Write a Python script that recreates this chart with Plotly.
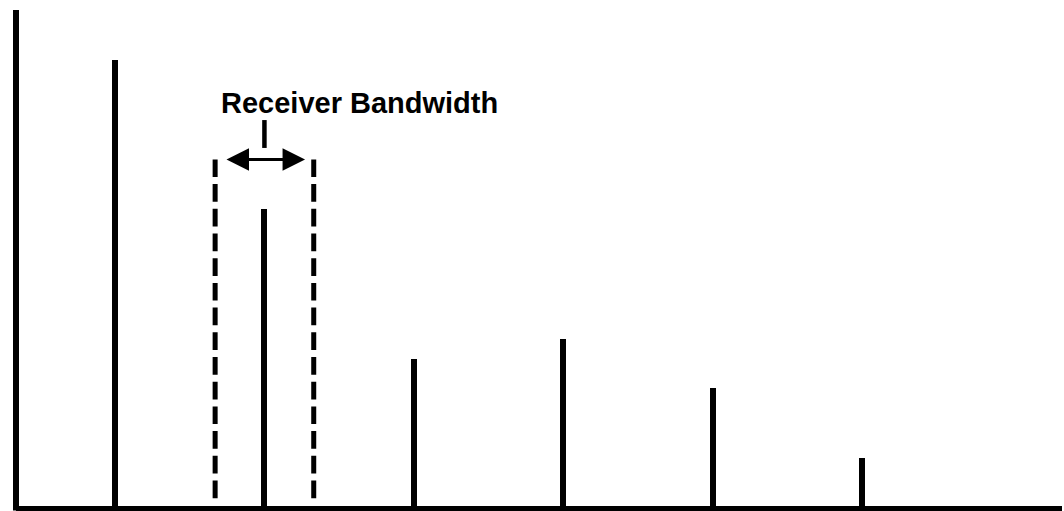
import plotly.graph_objects as go

# Spectral lines (harmonic index, relative amplitude)
harmonics = [1, 2, 3, 4, 5, 6]
amplitudes = [90, 60, 30, 34, 24, 10]

# Receiver bandwidth window around harmonic 2
band_center = 2.0
band_edges = [1.67, 2.33]
band_top = 70
band_bottom = 1.8
arrow_ends = [1.736, 2.272]
arrow_level = 70
marker_tick = [72.3, 77.9]
label_text = "Receiver Bandwidth"
label_pos = [2.636, 81.4]

x_range = [0.337, 7.339]
y_range = [0, 100]

fig = go.Figure()

fig.add_trace(go.Bar(
    x=harmonics, y=amplitudes, width=0.0402,
    marker=dict(color="black", line=dict(width=0)),
    showlegend=False, hoverinfo="skip",
))

for xe in band_edges:
    fig.add_trace(go.Scatter(
        x=[xe, xe], y=[band_top, band_bottom], mode="lines",
        line=dict(color="black", width=5, dash="17.7px,7px"),
        showlegend=False, hoverinfo="skip",
    ))

fig.add_trace(go.Scatter(
    x=[band_center, band_center], y=marker_tick, mode="lines",
    line=dict(color="black", width=4.5),
    showlegend=False, hoverinfo="skip",
))

fig.add_annotation(
    x=arrow_ends[1], y=arrow_level, ax=arrow_ends[0], ay=arrow_level,
    xref="x", yref="y", axref="x", ayref="y",
    text="", showarrow=True, arrowhead=2, startarrowhead=2,
    arrowside="end+start", arrowwidth=3, arrowsize=1.5, startarrowsize=1.5,
    arrowcolor="black", standoff=0, startstandoff=0,
)

fig.add_annotation(
    x=label_pos[0], y=label_pos[1], xref="x", yref="y",
    text="<b>" + label_text + "</b>", showarrow=False,
    font=dict(family="Arial, Liberation Sans", size=29, color="black"),
    xanchor="center", yanchor="middle",
)

# Axis lines
fig.add_shape(type="line", xref="paper", yref="paper", x0=0, x1=0, y0=-0.005, y1=1,
              line=dict(color="black", width=6))
fig.add_shape(type="line", xref="paper", yref="paper", x0=0, x1=1, y0=-0.001, y1=-0.001,
              line=dict(color="black", width=5))

fig.update_layout(
    width=1064, height=511,
    margin=dict(l=16, r=2, t=10, b=3),
    paper_bgcolor="white", plot_bgcolor="white",
    xaxis=dict(range=x_range, visible=False, fixedrange=True),
    yaxis=dict(range=y_range, visible=False, fixedrange=True),
    bargap=0,
)

fig.write_html("out.html", config={"displayModeBar": False},
               post_script="document.body.style.margin='0';document.body.style.overflow='hidden';")
